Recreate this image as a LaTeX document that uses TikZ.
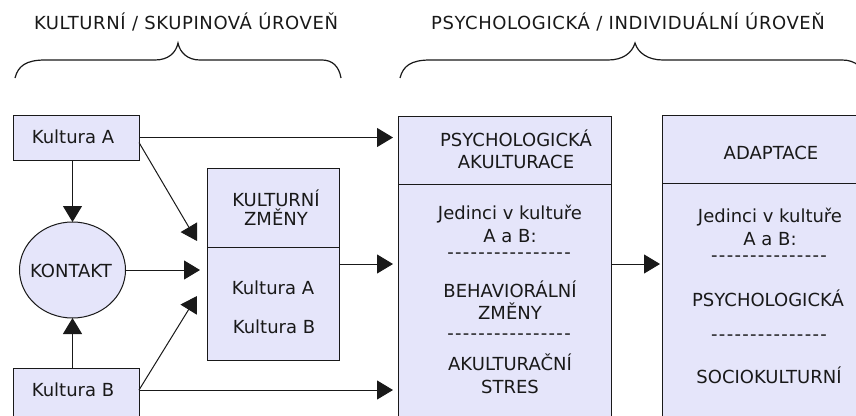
\documentclass[tikz,border=0pt]{standalone}
\usepackage{fontspec}
\setmainfont{DejaVu Sans}
\usetikzlibrary{arrows.meta,shapes.geometric}
\definecolor{boxfill}{RGB}{229,229,250}
\definecolor{ink}{RGB}{25,25,25}
% a spaced hyphen, so that rows of them are not joined into dashes
\newcommand\hy{-\kern1.3pt}
\begin{document}
\begin{tikzpicture}[x=1pt,y=-1pt,
  lbl/.style={font=\fontsize{18}{22.5}\selectfont, align=center, inner sep=0pt, text=ink},
  heading/.style={lbl, font=\fontsize{18}{22.5}\selectfont\addfontfeatures{LetterSpace=3.3}},
  boxstyle/.style={draw=ink, fill=boxfill, line width=1pt, rectangle, inner sep=0pt, outer sep=0pt},
  arr/.style={draw=ink, line width=1pt, -{Triangle[length=16pt,width=19pt]}},
  divider/.style={draw=ink, line width=1pt},
  brace/.style={draw=ink, line width=1.2pt}]
\fill[white] (0,0) rectangle (856,415);
\useasboundingbox (0,0) rectangle (856,415);
\clip (0,0) rectangle (856,415);

% level headings
\node[heading] (tl) at (186,22) {KULTURNÍ / SKUPINOVÁ ÚROVEŇ};
\node[heading] (tr) at (628,22) {PSYCHOLOGICKÁ / INDIVIDUÁLNÍ ÚROVEŇ};

% braces under the headings
\draw[brace] (15,78) .. controls (18,66) and (26,60) .. (45,60) -- (155,60)
  .. controls (168,60) and (176,53) .. (178,43)
  .. controls (180,53) and (188,60) .. (200,60) -- (322,60)
  .. controls (332,60) and (339,66) .. (341,78);
\draw[brace] (400,78) .. controls (403,66) and (411,60) .. (430,60) -- (608,60)
  .. controls (623,60) and (632,53) .. (635,43)
  .. controls (638,53) and (648,60) .. (663,60) -- (842,60)
  .. controls (856,60) and (864,68) .. (866,80);

% boxes
\node[boxstyle, minimum width=126pt, minimum height=45pt] (kA) at (76,137.5) {};
\node[boxstyle, minimum width=126pt, minimum height=60pt] (kB) at (76,398) {};
\node[boxstyle, ellipse, minimum width=106pt, minimum height=96pt] (kon) at (72.5,270) {};
\node[boxstyle, minimum width=132pt, minimum height=192pt] (kz) at (273,264) {};
\node[boxstyle, minimum width=213pt, minimum height=320pt] (psy) at (504.5,276) {};
\node[boxstyle, minimum width=220pt, minimum height=320pt] (ada) at (772,275) {};

% header separators
\draw[divider] (kz.west |- 0,247) -- (kz.east |- 0,247);
\draw[divider] (psy.west |- 0,184) -- (psy.east |- 0,184);
\draw[divider] (ada.west |- 0,183) -- (ada.east |- 0,183);

% texts
\node[lbl] (tA) at (73,137) {Kultura A};
\node[lbl] (tB) at (73,390) {Kultura B};
\node[lbl] (tK) at (71,271) {KONTAKT};
\node[lbl] (kzh) at (276,208) {KULTURNÍ\\[-3.5pt]ZMĚNY};
\node[lbl] (kza) at (273,288) {Kultura A};
\node[lbl] (kzb) at (274,327) {Kultura B};

\node[lbl] (psh) at (516,149.5) {PSYCHOLOGICKÁ\\AKULTURACE};
\node[lbl] (psi) at (510,224) {Jedinci v kultuře\\A a B:};
\node[lbl] (psd1) at (509,256) {\hy\hy\hy\hy\hy\hy\hy\hy\hy\hy\hy\hy\hy\hy\hy-};
\node[lbl] (psb) at (510,300) {BEHAVIORÁLNÍ\\ZMĚNY};
\node[lbl] (psd2) at (509,337) {\hy\hy\hy\hy\hy\hy\hy\hy\hy\hy\hy\hy\hy\hy\hy-};
\node[lbl] (pss) at (510,374) {AKULTURAČNÍ\\STRES};

\node[lbl] (adh) at (771,153) {ADAPTACE};
\node[lbl] (adi) at (770,227) {Jedinci v kultuře\\A a B:};
\node[lbl] (add1) at (769,259) {\hy\hy\hy\hy\hy\hy\hy\hy\hy\hy\hy\hy\hy\hy-};
\node[lbl] (adp) at (768,298) {PSYCHOLOGICKÁ};
\node[lbl] (add2) at (769,338) {\hy\hy\hy\hy\hy\hy\hy\hy\hy\hy\hy\hy\hy\hy-};
\node[lbl] (ads) at (769,375) {SOCIOKULTURNÍ};

% connectors
\coordinate (inA) at (197,241);
\coordinate (inB) at (197,296);
\draw[arr, shorten >=5pt] (kA.east) -- (kA.east -| psy.west);
\draw[arr, shorten >=5pt] (kB.east |- tB) -- (psy.west |- tB);
\draw[arr] (kA.south -| kon.north) -- (kon.north);
\draw[arr] (kB.north -| kon.south) -- (kon.south);
\draw[arr, shorten >=7pt] (kon.east) -- (kon.east -| kz.west);
\draw[arr] ([yshift=-5pt]kA.east) -- (inA);
\draw[arr] (kB.east |- tB) -- (inB);
\draw[arr, shorten >=5pt] (kz.east) -- (kz.east -| psy.west);
\draw[arr, shorten >=2pt] (psy.east |- kz.east) -- (ada.west |- kz.east);
\end{tikzpicture}
\end{document}
